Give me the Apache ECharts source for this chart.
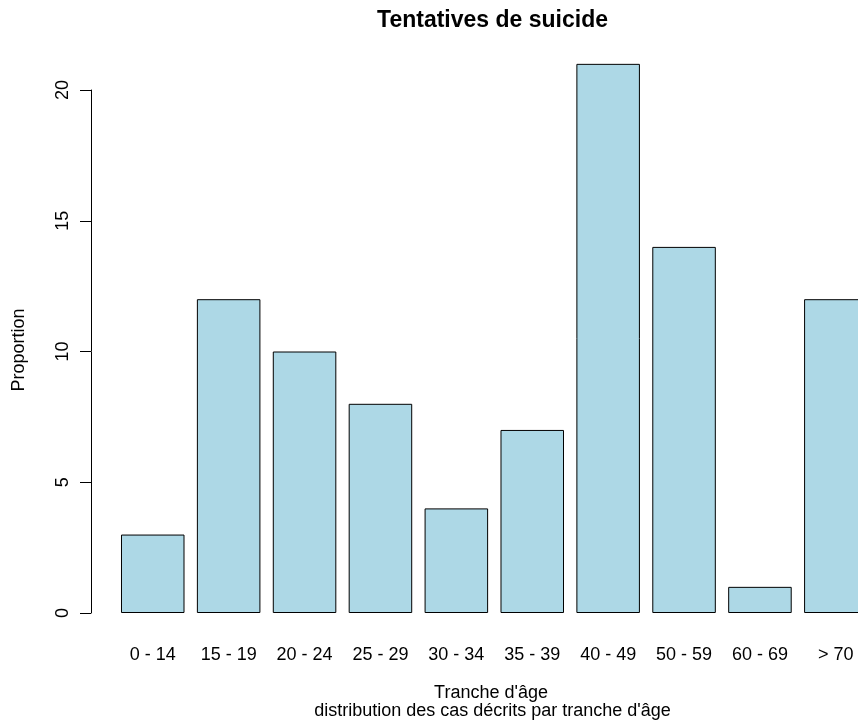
<!DOCTYPE html>
<html>
<head>
<meta charset="utf-8">
<script src="https://cdn.jsdelivr.net/npm/echarts@6/dist/echarts.min.js"></script>
<style>
  html, body { margin: 0; padding: 0; background: #fff; overflow: hidden; }
  /* the last bar runs past the right edge of the window */
  #chart { width: 880px; height: 727px; }
</style>
</head>
<body>
<div id="chart"></div>
<script>
// Age brackets and the number of cases in each
const ageBrackets = ['0 - 14', '15 - 19', '20 - 24', '25 - 29', '30 - 34', '35 - 39', '40 - 49', '50 - 59', '60 - 69', '> 70'];
const proportions = [3, 12, 10, 8, 4, 7, 21, 14, 1, 12];
const yTicks = [0, 5, 10, 15, 20];

const FONT = '"Liberation Sans", Arial, Helvetica, sans-serif';

const chart = echarts.init(document.getElementById('chart'), null, { renderer: 'canvas' });

chart.setOption({
  backgroundColor: '#ffffff',
  animation: false,
  grid: { left: 114.8, top: 90, width: 759, height: 523, containLabel: false },
  xAxis: {
    type: 'category',
    data: ageBrackets,
    axisLine: { show: false },
    axisTick: { show: false },
    axisLabel: { fontFamily: FONT, fontSize: 18, color: '#000', margin: 33, interval: 0 },
    splitLine: { show: false }
  },
  yAxis: {
    type: 'value',
    min: yTicks[0],
    max: yTicks[yTicks.length - 1],
    interval: 5,
    offset: 23.8,
    axisLine: { show: true, lineStyle: { color: '#000', width: 1 } },
    axisTick: { show: true, length: 11, lineStyle: { color: '#000', width: 1 } },
    axisLabel: { fontFamily: FONT, fontSize: 18, color: '#000', rotate: 90, margin: 19 },
    splitLine: { show: false }
  },
  graphic: [
    {
      type: 'text',
      style: {
        x: 492.5, y: 21, text: 'Tentatives de suicide',
        font: 'bold 23px ' + FONT, fill: '#000',
        textAlign: 'center', textVerticalAlign: 'middle'
      }
    },
    {
      type: 'text',
      style: {
        x: 491, y: 693, text: "Tranche d'âge",
        font: '18px ' + FONT, fill: '#000',
        textAlign: 'center', textVerticalAlign: 'middle'
      }
    },
    {
      type: 'text',
      style: {
        x: 492.5, y: 711, text: "distribution des cas décrits par tranche d'âge",
        font: '18px ' + FONT, fill: '#000',
        textAlign: 'center', textVerticalAlign: 'middle'
      }
    },
    {
      type: 'text',
      rotation: Math.PI / 2,
      x: 19, y: 350,
      style: {
        x: 0, y: 0, text: 'Proportion',
        font: '18px ' + FONT, fill: '#000',
        textAlign: 'center', textVerticalAlign: 'middle'
      }
    }
  ],
  series: [{
    type: 'bar',
    data: proportions,
    barCategoryGap: '16.3%',
    clip: false,
    itemStyle: { color: '#ADD8E6', borderColor: '#000', borderWidth: 1 }
  }]
});
</script>
</body>
</html>
